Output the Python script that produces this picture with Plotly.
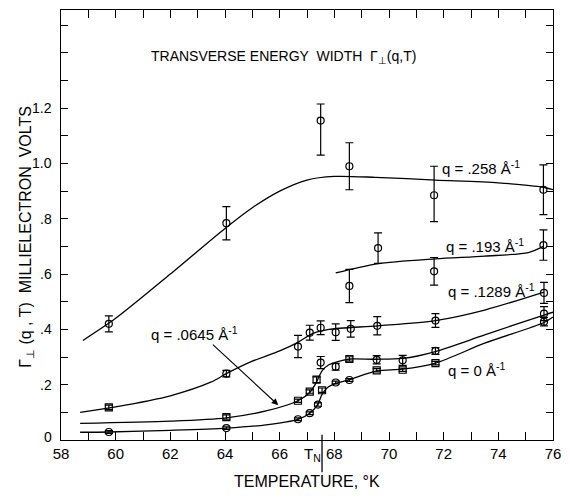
import plotly.graph_objects as go

# ---------------- data ----------------
# q = .258 1/A
t258 = [59.75, 64.05, 67.5, 68.55, 71.65, 75.65]
v258 = [0.42, 0.784, 1.155, 0.99, 0.885, 0.905]
e258p = [0.029, 0.06, 0.06, 0.085, 0.105, 0.09]
e258m = [0.029, 0.06, 0.125, 0.085, 0.095, 0.09]
c258_t = [58.8, 60.0, 62.0, 64.0, 65.0, 66.0, 67.0, 68.0, 69.5, 71.7, 74.0, 75.65, 76.0]
c258_v = [0.36, 0.44, 0.60, 0.765, 0.84, 0.90, 0.94, 0.953, 0.95, 0.94, 0.93, 0.914, 0.905]

# q = .193 1/A
t193 = [68.55, 69.6, 71.65, 75.65]
v193 = [0.557, 0.694, 0.61, 0.705]
e193 = [0.06, 0.055, 0.05, 0.055]
c193_t = [68.05, 69.56, 71.7, 73.5, 75.1, 75.65]
c193_v = [0.604, 0.637, 0.655, 0.665, 0.678, 0.70]

# q = .1289 1/A
t1289 = [59.75, 64.05, 66.67, 67.1, 67.5, 68.05, 68.6, 69.57, 71.7, 75.67]
v1289 = [0.118, 0.24, 0.338, 0.388, 0.406, 0.39, 0.402, 0.413, 0.432, 0.532]
e1289 = [0.008, 0.012, 0.04, 0.027, 0.025, 0.03, 0.03, 0.033, 0.025, 0.038]
c1289_t = [58.7, 60.0, 62.0, 63.5, 64.05, 65.0, 66.0, 66.7, 67.2, 67.8, 69.6, 71.7, 73.5, 75.67]
c1289_v = [0.10, 0.12, 0.16, 0.21, 0.24, 0.285, 0.322, 0.355, 0.385, 0.40, 0.413, 0.432, 0.47, 0.535]

# q = .0645 1/A
t0645 = [64.05, 66.67, 67.1, 67.35, 67.5, 68.05, 68.55, 69.55, 70.5, 71.7, 75.67]
v0645 = [0.083, 0.142, 0.175, 0.218, 0.28, 0.265, 0.293, 0.29, 0.288, 0.322, 0.457]
e0645 = [0.008, 0.006, 0.006, 0.01, 0.022, 0.012, 0.008, 0.015, 0.018, 0.012, 0.025]
c0645_t = [58.7, 62.0, 64.05, 65.5, 66.67, 67.1, 67.35, 67.55, 67.8, 68.3, 68.6, 69.55, 70.5, 71.7, 73.5, 75.67, 76.0]
c0645_v = [0.06, 0.068, 0.08, 0.105, 0.142, 0.172, 0.21, 0.25, 0.272, 0.288, 0.293, 0.292, 0.295, 0.32, 0.38, 0.452, 0.462]

# q = 0 1/A
t0 = [59.75, 64.05, 66.67, 67.1, 67.4, 67.55, 68.05, 68.55, 69.55, 70.5, 71.7, 75.67]
v0 = [0.029, 0.043, 0.075, 0.097, 0.128, 0.18, 0.208, 0.217, 0.252, 0.254, 0.278, 0.428]
e0 = [0.005, 0.005, 0.005, 0.005, 0.006, 0.008, 0.005, 0.005, 0.006, 0.006, 0.006, 0.015]
c0_t = [58.7, 59.75, 62.0, 64.05, 65.5, 66.67, 67.1, 67.4, 67.55, 67.75, 68.05, 68.55, 69.55, 70.5, 71.7, 73.5, 75.67, 76.0]
c0_v = [0.028, 0.029, 0.035, 0.043, 0.055, 0.075, 0.097, 0.13, 0.165, 0.19, 0.205, 0.218, 0.25, 0.256, 0.278, 0.35, 0.425, 0.445]

T_N = 67.55

x_ticks = list(range(58, 77))
x_labels = ["58", "", "60", "", "62", "", "64", "", "66", "", "68", "", "70", "", "72", "", "74", "", "76"]
y_ticks = [round(0.1 * i, 1) for i in range(16)]
y_label_vals = [0.0, 0.2, 0.4, 0.6, 0.8, 1.0, 1.2]
y_label_text = ["0", ".2", ".4", ".6", ".8", "1.0", "1.2"]

curve_labels = ["q = .258 Å<sup>-1</sup>", "q = .193 Å<sup>-1</sup>", "q = .1289 Å<sup>-1</sup>",
                "q = .0645 Å<sup>-1</sup>", "q = 0 Å<sup>-1</sup>"]
label_t = [73.35, 73.5, 73.75, 62.9, 73.2]
label_v = [0.985, 0.705, 0.54, 0.385, 0.255]

# ---------------- styles ----------------
FONT = "Liberation Sans"
INK = "black"
sym1289 = ["square-open"] + ["circle-open"] * 9
sym0645 = ["square-open"] * 4 + ["circle-open", "circle-open", "square-open", "circle-open",
                                 "circle-open", "circle-open", "circle-open"]
sym0 = ["circle-open"] * 5 + ["square-open", "circle-open", "circle-open", "square-open",
                              "square-open", "square-open", "circle-open"]

fig = go.Figure()

def curve(t, v):
    fig.add_trace(go.Scatter(x=t, y=v, mode="lines", line=dict(color=INK, width=1.3, shape="spline", smoothing=0.8),
                             hoverinfo="skip", showlegend=False))

def points(t, v, ep, em=None, sym="circle-open"):
    fig.add_trace(go.Scatter(
        x=t, y=v, mode="markers",
        marker=dict(symbol=sym, size=7, color=INK, line=dict(width=1.2, color=INK)),
        error_y=dict(type="data", array=ep, arrayminus=em if em is not None else ep,
                     width=4, thickness=1.2, color=INK),
        showlegend=False))

for ct, cv in [(c258_t, c258_v), (c193_t, c193_v), (c1289_t, c1289_v), (c0645_t, c0645_v), (c0_t, c0_v)]:
    curve(ct, cv)

points(t258, v258, e258p, e258m)
points(t193, v193, e193)
points(t1289, v1289, e1289, sym=sym1289)
points(t0645, v0645, e0645, sym=sym0645)
points(t0, v0, e0, sym=sym0)

for txt, lt, lv in zip(curve_labels, label_t, label_v):
    fig.add_annotation(x=lt, y=lv, text=txt, showarrow=False, font=dict(family=FONT, size=15, color=INK))

# y tick labels (drawn as text beside the axis)
for yv, yt in zip(y_label_vals, y_label_text):
    fig.add_annotation(x=0, xref="paper", y=yv, yref="y", text=yt, showarrow=False,
                       xanchor="right", xshift=-7, yshift=(3 if yv == 0 else 0),
                       font=dict(family=FONT, size=14, color=INK))

# arrow for q = .0645
fig.add_annotation(x=65.95, y=0.126, ax=63.5, ay=0.35, xref="x", yref="y", axref="x", ayref="y",
                   text="", showarrow=True, arrowhead=2, arrowsize=1.2, arrowwidth=1.1, arrowcolor=INK)

# T_N marker
fig.add_shape(type="line", x0=T_N, x1=T_N, y0=-0.075, y1=0.012, xref="x", yref="paper",
              line=dict(color=INK, width=1.3))
fig.add_annotation(x=T_N, y=-0.06, xref="x", yref="paper", text="T<sub>N</sub>", showarrow=False,
                   xanchor="right", xshift=1, font=dict(family=FONT, size=15, color=INK))

# title inside plot
fig.add_annotation(x=0.453, y=0.916, xref="paper", yref="paper", showarrow=False,
                   text="TRANSVERSE ENERGY  WIDTH  Γ<sub>⊥</sub>(q,T)",
                   font=dict(family=FONT, size=14, color=INK))
# axis titles
fig.add_annotation(x=0.501, y=-0.121, xref="paper", yref="paper", showarrow=False,
                   text="TEMPERATURE, °K", font=dict(family=FONT, size=16, color=INK))
fig.add_annotation(x=-0.094, y=0.473, xref="paper", yref="paper", showarrow=False, textangle=-90,
                   text="Γ<sub>⊥</sub> (q , T)  MILLIELECTRON  VOLTS", font=dict(family=FONT, size=16, color=INK))

fig.update_xaxes(range=[58, 76], tickmode="array", tickvals=x_ticks, ticktext=x_labels,
                 ticks="inside", ticklen=8, tickwidth=1.1, tickcolor=INK,
                 showline=True, linecolor=INK, linewidth=1.3, mirror="allticks",
                 showgrid=False, zeroline=False, tickfont=dict(family=FONT, size=15, color=INK))
fig.update_yaxes(range=[0, 1.555], tickmode="array", tickvals=y_ticks, showticklabels=False,
                 ticks="inside", ticklen=7, tickwidth=1.1, tickcolor=INK,
                 showline=True, linecolor=INK, linewidth=1.3, mirror="allticks",
                 showgrid=False, zeroline=False)

fig.update_layout(width=570, height=499, margin=dict(l=61, r=10, t=9, b=59),
                  paper_bgcolor="white", plot_bgcolor="white", showlegend=False)

fig.write_html("out.html")
